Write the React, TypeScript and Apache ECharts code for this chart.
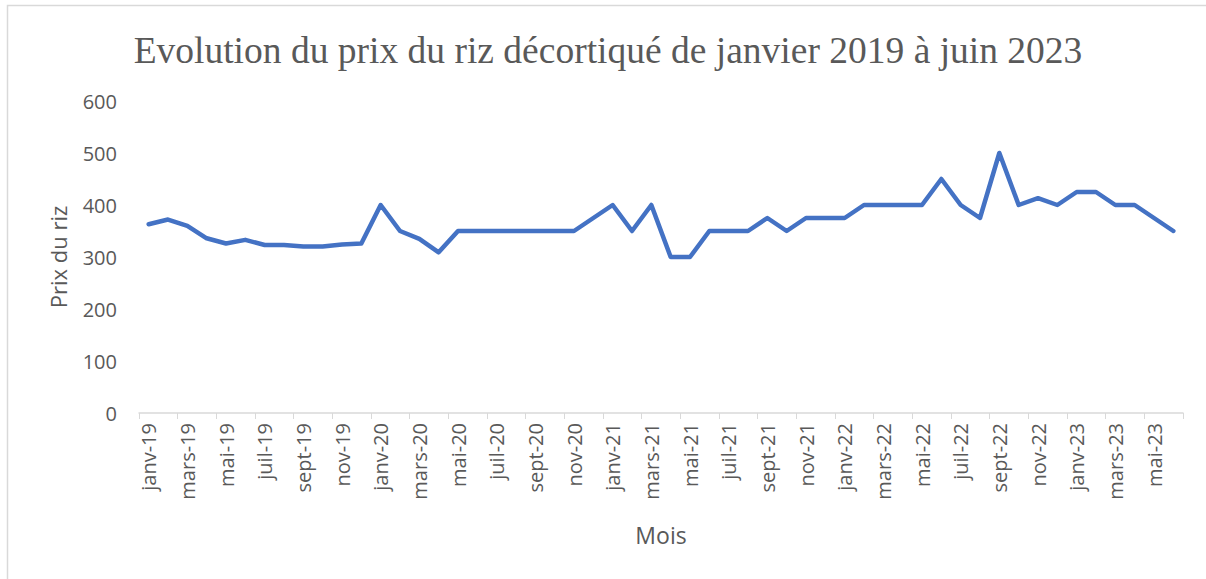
import React, { useEffect, useRef } from "react";
import * as echarts from "echarts";

const months = ["janv", "févr", "mars", "avr", "mai", "juin", "juil", "août", "sept", "oct", "nov", "déc"];
const years = ["19", "20", "21", "22", "23"];
const categories: string[] = [];
years.forEach((y) => months.forEach((m) => categories.push(`${m}-${y}`)));
categories.splice(54);

const prices = [
  363, 372, 360, 336, 326, 333, 323, 323, 320, 320, 324, 326,
  400, 350, 335, 309, 350, 350, 350, 350, 350, 350, 350, 375,
  400, 350, 400, 300, 300, 350, 350, 350, 375, 350, 375, 375,
  375, 400, 400, 400, 400, 450, 400, 375, 500, 400, 413, 400,
  425, 425, 400, 400, 375, 350,
];

const yTicks = [0, 100, 200, 300, 400, 500, 600];

export default function App() {
  const ref = useRef<HTMLDivElement>(null);
  useEffect(() => {
    document.body.style.margin = "0";
    const chart = echarts.init(ref.current!, null, { renderer: "svg" });
    const font = "'Open Sans', 'Noto Sans', sans-serif";
    chart.setOption({
      animation: false,
      backgroundColor: "#ffffff",
      title: {
        text: "Evolution du prix du riz décortiqué de janvier 2019 à juin 2023",
        left: 603,
        top: 26,
        textAlign: "center",
        textStyle: {
          fontFamily: "'Liberation Serif', 'Times New Roman', serif",
          fontSize: 37.5,
          fontWeight: "normal",
          color: "#595959",
        },
      },
      graphic: [
        {
          type: "rect",
          shape: { x: 7.5, y: 5.5, width: 1220, height: 620 },
          style: { fill: "none", stroke: "#d9d9d9", lineWidth: 1.5 },
          silent: true,
        },
      ],
      grid: { left: 139, right: 23, top: 101, bottom: 166 },
      xAxis: {
        type: "category",
        data: categories,
        boundaryGap: true,
        name: "Mois",
        nameLocation: "middle",
        nameGap: 110,
        nameTextStyle: { fontFamily: font, fontSize: 23, color: "#595959" },
        axisLine: { lineStyle: { color: "#d9d9d9", width: 1.5 } },
        axisTick: { show: true, interval: 1, length: 6, alignWithLabel: false, lineStyle: { color: "#d9d9d9" } },
        axisLabel: {
          interval: 1,
          rotate: 90,
          fontFamily: font,
          fontSize: 20,
          color: "#595959",
          margin: 10,
        },
        splitLine: { show: false },
      },
      yAxis: {
        type: "value",
        min: 0,
        max: 600,
        interval: 100,
        name: "Prix du riz",
        nameLocation: "middle",
        nameGap: 70,
        nameTextStyle: { fontFamily: font, fontSize: 22, color: "#595959" },
        axisLine: { show: false },
        axisTick: { show: false },
        splitLine: { show: false },
        axisLabel: {
          fontFamily: font,
          fontSize: 20,
          color: "#595959",
          margin: 22,
          formatter: (v: number) => (yTicks.includes(v) ? String(v) : ""),
        },
      },
      series: [
        {
          type: "line",
          data: prices,
          symbol: "none",
          lineStyle: { color: "#4472C4", width: 4.5, cap: "round", join: "round" },
        },
      ],
    });
    return () => chart.dispose();
  }, []);
  return <div ref={ref} style={{ width: 1206, height: 579 }} />;
}
